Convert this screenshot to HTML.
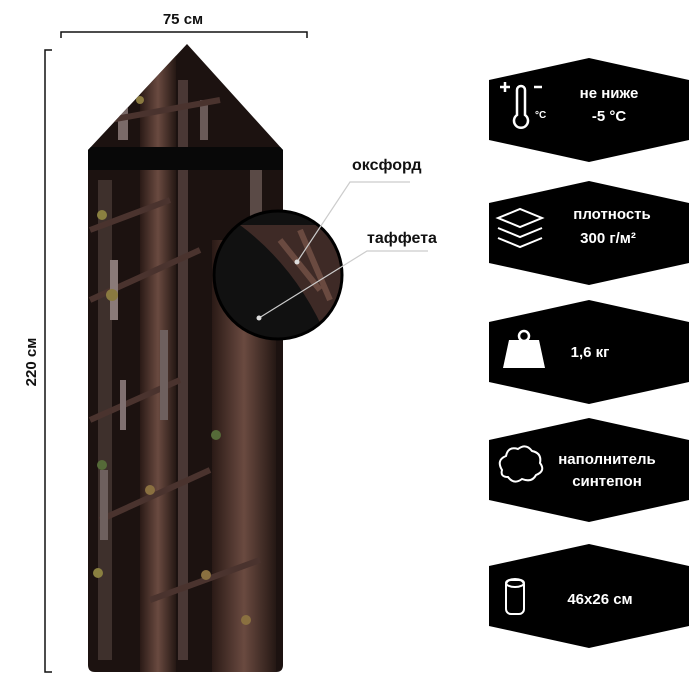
<!DOCTYPE html>
<html><head><meta charset="utf-8"><style>
html,body{margin:0;padding:0;background:#fff;}
svg{display:block;font-family:"Liberation Sans","DejaVu Sans",sans-serif;font-weight:bold;}
</style></head><body>
<svg width="700" height="700" viewBox="0 0 700 700" xmlns="http://www.w3.org/2000/svg">
<defs>
<clipPath id="bag"><path d="M187,44 L283,150 L283,665 Q283,672 276,672 L95,672 Q88,672 88,665 L88,150 Z"/></clipPath>
<clipPath id="circ"><circle cx="278" cy="275" r="64"/></clipPath>
<linearGradient id="trunk" x1="0" x2="1"><stop offset="0" stop-color="#2a1a16"/><stop offset=".5" stop-color="#6a4a40"/><stop offset="1" stop-color="#251814"/></linearGradient>
</defs>
<text x="183" y="24" font-size="15" text-anchor="middle" fill="#111">75 см</text>
<path d="M61,38 V32 H307 V38" stroke="#111" stroke-width="1.5" fill="none"/>
<path d="M52,50 H45 V672 H52" stroke="#111" stroke-width="1.5" fill="none"/>
<text transform="translate(36,362) rotate(-90)" font-size="15" text-anchor="middle" fill="#111">220 см</text>
<g clip-path="url(#bag)">
<rect x="80" y="40" width="210" height="640" fill="#1c1210"/>
<rect x="140" y="40" width="36" height="640" fill="url(#trunk)"/>
<rect x="212" y="240" width="64" height="440" fill="url(#trunk)"/>
<rect x="98" y="180" width="14" height="480" fill="#3e302c"/>
<rect x="178" y="80" width="10" height="580" fill="#4a3835"/>
<rect x="250" y="170" width="12" height="120" fill="#5a4a46"/>
<rect x="118" y="80" width="10" height="60" fill="#7a6a68"/>
<rect x="200" y="100" width="8" height="40" fill="#6a5a58"/>
<path d="M90,300 L200,250 M90,420 L180,380 M100,520 L210,470 M150,600 L260,560 M90,230 L170,200 M110,120 L220,100" stroke="#4a332e" stroke-width="6"/>
<rect x="110" y="260" width="8" height="60" fill="#8a7a78"/>
<rect x="160" y="330" width="8" height="90" fill="#6e605e"/>
<rect x="100" y="470" width="8" height="70" fill="#6e605e"/>
<rect x="120" y="380" width="6" height="50" fill="#807070"/>
<circle cx="112" cy="295" r="6" fill="#8a7a40"/><circle cx="102" cy="215" r="5" fill="#8a8040"/>
<circle cx="216" cy="435" r="5" fill="#556a38"/><circle cx="102" cy="465" r="5" fill="#556a38"/>
<circle cx="150" cy="490" r="5" fill="#8a7040"/><circle cx="98" cy="573" r="5" fill="#8a8040"/>
<circle cx="206" cy="575" r="5" fill="#8a7040"/><circle cx="246" cy="620" r="5" fill="#8a7040"/>
<circle cx="140" cy="100" r="4" fill="#8a7a40"/>
<path d="M86,147 L283,147 L283,170 L86,170 Z" fill="#080808"/>
</g>
<g clip-path="url(#circ)">
<rect x="210" y="205" width="140" height="140" fill="#111"/>
<path d="M240,225 L345,225 L345,345 L330,345 Q300,270 240,225 Z" fill="#3e2a26"/>
<path d="M300,230 L330,300 M280,240 L320,290" stroke="#6a4a40" stroke-width="6"/>
</g>
<circle cx="278" cy="275" r="64" fill="none" stroke="#000" stroke-width="3"/>
<path d="M297,262 L350,182 H410" stroke="#ccc" stroke-width="1.2" fill="none"/>
<circle cx="297" cy="262" r="2.5" fill="#ddd"/>
<path d="M259,318 L367,251 H428" stroke="#ccc" stroke-width="1.2" fill="none"/>
<circle cx="259" cy="318" r="2.5" fill="#ddd"/>
<text x="352" y="170" font-size="16" fill="#111">оксфорд</text>
<text x="367" y="243" font-size="16" fill="#111">таффета</text>
<g fill="#000">
<path d="M489,80 L589,58 L689,80 V140 L589,162 L489,140 Z"/>
<path d="M489,203 L589,181 L689,203 V263 L589,285 L489,263 Z"/>
<path d="M489,322 L589,300 L689,322 V382 L589,404 L489,382 Z"/>
<path d="M489,440 L589,418 L689,440 V500 L589,522 L489,500 Z"/>
<path d="M489,566 L589,544 L689,566 V626 L589,648 L489,626 Z"/>
</g>
<g fill="#fff" font-size="15" text-anchor="middle">
<text x="609" y="98">не ниже</text><text x="609" y="121">-5 °C</text>
<text x="612" y="219">плотность</text><text x="608" y="243">300 г/м²</text>
<text x="590" y="357">1,6 кг</text>
<text x="607" y="464">наполнитель</text><text x="607" y="486">синтепон</text>
<text x="600" y="604">46x26 см</text>
</g>
<g stroke="#fff" fill="none" stroke-width="2.5">
<path d="M505,82 v10 M500,87 h10 M534,87 h8"/>
<path d="M517,90 v25 a7,7 0 1 0 8,0 v-25 a4,4 0 0 0 -8,0 Z"/>
<path d="M498,218 l22,-9 l22,9 l-22,9 Z M498,228 l22,9 l22,-9 M498,238 l22,9 l22,-9" stroke-width="2"/>
<path d="M502,470 q-6,-10 4,-14 q2,-10 12,-7 q8,-6 14,2 q10,2 8,12 q6,8 -4,12 q-4,8 -14,4 q-8,6 -14,-2 q-8,0 -6,-7 Z" stroke-width="2"/>
<rect x="506" y="580" width="18" height="34" rx="5" stroke-width="2"/><ellipse cx="515" cy="583" rx="9" ry="4" stroke-width="2"/>
</g>
<text x="535" y="118" font-size="10" fill="#fff">°C</text>
<path d="M503,368 L509,340 H539 L545,368 Z" fill="#fff"/>
<circle cx="524" cy="336" r="5" fill="none" stroke="#fff" stroke-width="2.5"/>
</svg>
</body></html>
